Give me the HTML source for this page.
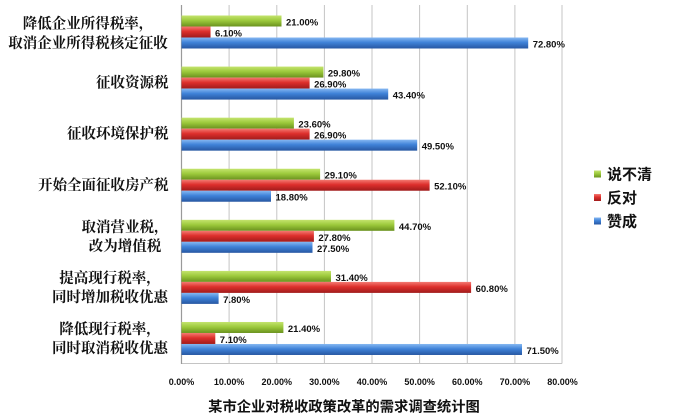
<!DOCTYPE html>
<html><head><meta charset="utf-8"><style>
html,body{margin:0;padding:0;background:#fff;}
svg{display:block;}
.v{font-family:"Liberation Sans",sans-serif;font-size:9px;font-weight:bold;fill:#111;}
.vb{font-family:"Liberation Sans",sans-serif;font-size:9.5px;font-weight:bold;fill:#111;}
.c{font-family:"Liberation Serif","Noto Serif CJK SC",serif;font-size:14.5px;font-weight:bold;fill:#111;}
.l{font-family:"Liberation Sans","Noto Sans CJK SC",sans-serif;font-size:15px;font-weight:bold;fill:#111;}
.t{font-family:"Liberation Sans","Noto Sans CJK SC",sans-serif;font-size:14.3px;font-weight:bold;fill:#111;}
</style></head><body>
<svg width="682" height="418" viewBox="0 0 682 418" xmlns="http://www.w3.org/2000/svg">
<defs>
<linearGradient id="g" x1="0" y1="0" x2="0" y2="1"><stop offset="0" stop-color="#c4e46e"/><stop offset="0.45" stop-color="#9dca3c"/><stop offset="1" stop-color="#6a921e"/></linearGradient>
<linearGradient id="r" x1="0" y1="0" x2="0" y2="1"><stop offset="0" stop-color="#f47a72"/><stop offset="0.45" stop-color="#dd2f2c"/><stop offset="1" stop-color="#a01b1b"/></linearGradient>
<linearGradient id="b" x1="0" y1="0" x2="0" y2="1"><stop offset="0" stop-color="#86b8f2"/><stop offset="0.45" stop-color="#3f82d8"/><stop offset="1" stop-color="#2757a2"/></linearGradient>
</defs>
<rect width="682" height="418" fill="#fff"/>
<g stroke="#c4c4c4" stroke-width="1">
<line x1="229.1" y1="5" x2="229.1" y2="363.5"/>
<line x1="276.8" y1="5" x2="276.8" y2="363.5"/>
<line x1="324.4" y1="5" x2="324.4" y2="363.5"/>
<line x1="372" y1="5" x2="372" y2="363.5"/>
<line x1="419.6" y1="5" x2="419.6" y2="363.5"/>
<line x1="467.3" y1="5" x2="467.3" y2="363.5"/>
<line x1="514.9" y1="5" x2="514.9" y2="363.5"/>
<line x1="562" y1="5" x2="562" y2="363.5"/>
<line x1="181.5" y1="363.5" x2="562" y2="363.5"/>
</g>
<line x1="181.5" y1="5" x2="181.5" y2="364" stroke="#9a9a9a" stroke-width="1.2"/>
<g>
<text class="v" x="181.5" y="385" text-anchor="middle">0.00%</text>
<text class="v" x="229.1" y="385" text-anchor="middle">10.00%</text>
<text class="v" x="276.8" y="385" text-anchor="middle">20.00%</text>
<text class="v" x="324.4" y="385" text-anchor="middle">30.00%</text>
<text class="v" x="372" y="385" text-anchor="middle">40.00%</text>
<text class="v" x="419.6" y="385" text-anchor="middle">50.00%</text>
<text class="v" x="467.3" y="385" text-anchor="middle">60.00%</text>
<text class="v" x="514.9" y="385" text-anchor="middle">70.00%</text>
<text class="v" x="562.5" y="385" text-anchor="middle">80.00%</text>
</g>
<text class="t" x="344" y="411.5" text-anchor="middle">某市企业对税收政策改革的需求调查统计图</text>
<rect x="594" y="170.5" width="7" height="7" fill="url(#g)"/>
<text class="l" x="607" y="179.5">说不清</text>
<rect x="594" y="194" width="7" height="7" fill="url(#r)"/>
<text class="l" x="607" y="203">反对</text>
<rect x="594" y="217.5" width="7" height="7" fill="url(#b)"/>
<text class="l" x="607" y="226.5">赞成</text>
<text class="c" x="88" y="28.5" text-anchor="middle">降低企业所得税率，</text>
<text class="c" x="88" y="48" text-anchor="middle">取消企业所得税核定征收</text>
<text class="c" x="168.5" y="87.5" text-anchor="end">征收资源税</text>
<text class="c" x="168.5" y="138.5" text-anchor="end">征收环境保护税</text>
<text class="c" x="168.5" y="190" text-anchor="end">开始全面征收房产税</text>
<text class="c" x="125" y="232" text-anchor="middle">取消营业税，</text>
<text class="c" x="125" y="251" text-anchor="middle">改为增值税</text>
<text class="c" x="110" y="283" text-anchor="middle">提高现行税率，</text>
<text class="c" x="110" y="302" text-anchor="middle">同时增加税收优惠</text>
<text class="c" x="110" y="334" text-anchor="middle">降低现行税率，</text>
<text class="c" x="110" y="353" text-anchor="middle">同时取消税收优惠</text>
<g>
<rect x="181.5" y="15.5" width="100" height="11" fill="url(#g)"/>
<rect x="181.5" y="26.5" width="29.05" height="11" fill="url(#r)"/>
<rect x="181.5" y="37.5" width="346.7" height="11" fill="url(#b)"/>
<text class="vb" x="286" y="25.5">21.00%</text>
<text class="vb" x="215" y="36.5">6.10%</text>
<text class="vb" x="532.7" y="47.5">72.80%</text>
<rect x="181.5" y="66.58" width="141.9" height="11" fill="url(#g)"/>
<rect x="181.5" y="77.58" width="128.1" height="11" fill="url(#r)"/>
<rect x="181.5" y="88.58" width="206.7" height="11" fill="url(#b)"/>
<text class="vb" x="327.9" y="76.6">29.80%</text>
<text class="vb" x="314.1" y="87.6">26.90%</text>
<text class="vb" x="392.7" y="98.6">43.40%</text>
<rect x="181.5" y="117.66" width="112.4" height="11" fill="url(#g)"/>
<rect x="181.5" y="128.66" width="128.1" height="11" fill="url(#r)"/>
<rect x="181.5" y="139.66" width="235.7" height="11" fill="url(#b)"/>
<text class="vb" x="298.4" y="127.7">23.60%</text>
<text class="vb" x="314.1" y="138.7">26.90%</text>
<text class="vb" x="421.7" y="149.7">49.50%</text>
<rect x="181.5" y="168.74" width="138.6" height="11" fill="url(#g)"/>
<rect x="181.5" y="179.74" width="248.1" height="11" fill="url(#r)"/>
<rect x="181.5" y="190.74" width="89.5" height="11" fill="url(#b)"/>
<text class="vb" x="324.6" y="178.7">29.10%</text>
<text class="vb" x="434.1" y="189.7">52.10%</text>
<text class="vb" x="275.5" y="200.7">18.80%</text>
<rect x="181.5" y="219.82" width="212.9" height="11" fill="url(#g)"/>
<rect x="181.5" y="230.82" width="132.4" height="11" fill="url(#r)"/>
<rect x="181.5" y="241.82" width="131" height="11" fill="url(#b)"/>
<text class="vb" x="398.9" y="229.8">44.70%</text>
<text class="vb" x="318.4" y="240.8">27.80%</text>
<text class="vb" x="317" y="251.8">27.50%</text>
<rect x="181.5" y="270.9" width="149.5" height="11" fill="url(#g)"/>
<rect x="181.5" y="281.9" width="289.6" height="11" fill="url(#r)"/>
<rect x="181.5" y="292.9" width="37.1" height="11" fill="url(#b)"/>
<text class="vb" x="335.5" y="280.9">31.40%</text>
<text class="vb" x="475.6" y="291.9">60.80%</text>
<text class="vb" x="223.1" y="302.9">7.80%</text>
<rect x="181.5" y="321.98" width="101.9" height="11" fill="url(#g)"/>
<rect x="181.5" y="332.98" width="33.8" height="11" fill="url(#r)"/>
<rect x="181.5" y="343.98" width="340.5" height="11" fill="url(#b)"/>
<text class="vb" x="287.9" y="332">21.40%</text>
<text class="vb" x="219.8" y="343">7.10%</text>
<text class="vb" x="526.5" y="354">71.50%</text>
</g>
</svg>
</body></html>
